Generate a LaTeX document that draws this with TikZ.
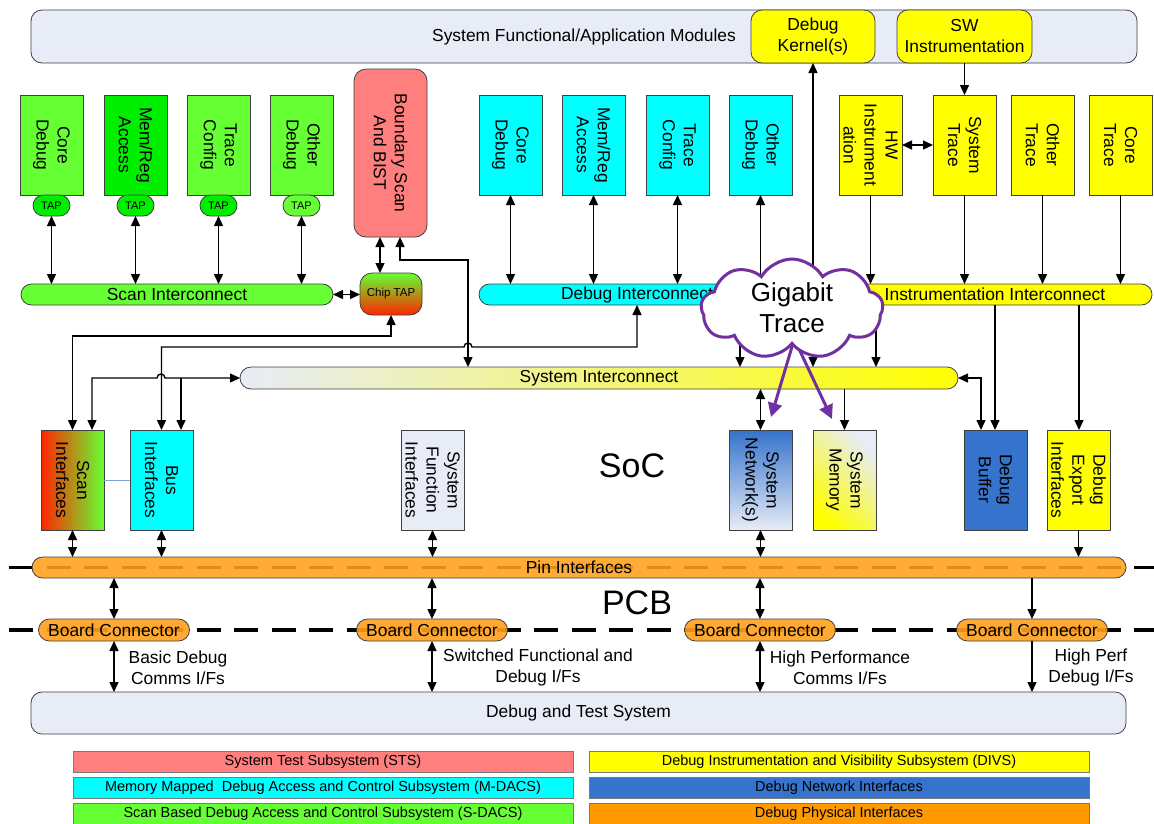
\documentclass[tikz,border=0pt]{standalone}
\usepackage{fontspec}
\setmainfont{Liberation Sans}
\usetikzlibrary{arrows.meta,shapes.symbols}

\definecolor{paleblue}{HTML}{E7ECF7}
\definecolor{cLime}{HTML}{66FF33}
\definecolor{cGreen}{HTML}{00EE00}
\definecolor{cCyan}{HTML}{00FFFF}
\definecolor{cYellow}{HTML}{FFFF00}
\definecolor{cPink}{HTML}{FF7F7F}
\definecolor{cNet}{HTML}{3573CC}
\definecolor{cOrange}{HTML}{FFA01C}
\definecolor{cLegOrange}{HTML}{FF9900}
\definecolor{cPurple}{HTML}{7030A0}
\definecolor{cEdge}{HTML}{404040}
\definecolor{cRed}{HTML}{FF2400}
\definecolor{cAmber}{HTML}{D89A10}
\definecolor{cLink}{HTML}{7FA0D8}

\begin{document}
\begin{tikzpicture}[x=1pt,y=-1pt,
  >={Triangle[length=10pt,width=9pt]},
  every node/.style={font=\fontsize{17.4}{21}\selectfont, inner sep=0pt, outer sep=0pt},
  blk/.style={draw=cEdge, line width=0.8pt, minimum width=63pt, minimum height=100pt},
  vtxt/.style={rotate=-90, align=center},
  pill/.style={draw=cEdge, line width=0.8pt, rounded corners=10.5pt, minimum height=21pt},
  tap/.style={pill, minimum width=37pt, font=\fontsize{11}{13}\selectfont},
  topblk/.style={draw=cEdge, line width=0.8pt, rounded corners=11pt, minimum height=53pt, align=center},
  lgd/.style={draw=cEdge!70, line width=0.8pt, minimum width=500pt, minimum height=21pt, font=\fontsize{14.5}{17}\selectfont},
  con/.style={line width=1.4pt, ->},
  dcon/.style={line width=1.4pt, <->},
  bdry/.style={line width=3.5pt, dash pattern=on 24pt off 13.5pt},
  gig/.style={draw=cPurple, line width=3pt, -{Triangle[length=14pt,width=14pt]}},
  puffy/.style={cloud, cloud puffs=9, cloud puff arc=120, aspect=1.8, minimum width=182pt, minimum height=100pt},
  conn/.style={pill, fill=cOrange, fill opacity=0.9, text opacity=1, minimum width=151pt, minimum height=22pt, rounded corners=11pt}
]
\fill[white] (0,0) rectangle (1154,823);
\useasboundingbox (0,0) rectangle (1154,823);

% SoC / PCB boundaries
\draw[bdry] (9,567.5) -- (1154,567.5);
\draw[bdry] (9,630) -- (1154,630);

% application layer
\node[topblk, fill=paleblue, minimum width=1106pt] (apps) at (584,36.5) {System Functional/Application Modules};
\node[topblk, fill=cYellow, minimum width=124pt] (dk) at (813,36.5) {Debug\\Kernel(s)};
\node[topblk, fill=cYellow, minimum width=135pt] (sw) at (964.5,36.5) {SW\\Instrumentation};

% scan based debug blocks
\node[blk, fill=cLime] (sd1) at (51.5,145) {};
\node[vtxt] (sd1t) at (sd1) {Core\\Debug};
\node[blk, fill=cGreen] (sd2) at (135.5,145) {};
\node[vtxt] (sd2t) at (sd2) {Mem/Reg\\Access};
\node[blk, fill=cLime] (sd3) at (218.5,145) {};
\node[vtxt] (sd3t) at (sd3) {Trace\\Config};
\node[blk, fill=cLime] (sd4) at (301.5,145) {};
\node[vtxt] (sd4t) at (sd4) {Other\\Debug};
\node[tap, fill=cGreen] (tap1) at (51.5,205.5) {TAP};
\node[tap, fill=cGreen] (tap2) at (135.5,205.5) {TAP};
\node[tap, fill=cGreen] (tap3) at (218.5,205.5) {TAP};
\node[tap, fill=cLime] (tap4) at (301.5,205.5) {TAP};
\node[pill, fill=cLime, minimum width=312pt] (scan) at (177,294.5) {Scan Interconnect};

% system test
\node[blk, fill=cPink, rounded corners=12pt, minimum width=73pt, minimum height=168pt] (bsc) at (390.5,153) {};
\node[vtxt] (bsct) at (bsc) {Boundary Scan\\And BIST};
\node[draw=cEdge, line width=0.8pt, rounded corners=12pt, top color=cLime, middle color=cAmber, bottom color=cRed,
      minimum width=62pt, minimum height=42pt, font=\fontsize{11.5}{13}\selectfont] (chiptap) at (391,294) {Chip TAP};

% memory mapped debug blocks
\node[blk, fill=cCyan] (md1) at (510.5,145) {};
\node[vtxt] (md1t) at (md1) {Core\\Debug};
\node[blk, fill=cCyan] (md2) at (593.5,145) {};
\node[vtxt] (md2t) at (md2) {Mem/Reg\\Access};
\node[blk, fill=cCyan] (md3) at (677.5,145) {};
\node[vtxt] (md3t) at (md3) {Trace\\Config};
\node[blk, fill=cCyan] (md4) at (760.5,145) {};
\node[vtxt] (md4t) at (md4) {Other\\Debug};
\node[pill, fill=cCyan, minimum width=316pt] (dbgint) at (637,294.5) {Debug Interconnect};

% instrumentation blocks
\node[blk, fill=cYellow] (hw) at (870.5,145) {};
\node[vtxt] (hwt) at (hw) {HW\\Instrument\\ation};
\node[blk, fill=cYellow] (st) at (964.5,145) {};
\node[vtxt] (stt) at (st) {System\\Trace};
\node[blk, fill=cYellow] (ot) at (1042.5,145) {};
\node[vtxt] (ott) at (ot) {Other\\Trace};
\node[blk, fill=cYellow] (ct) at (1120.5,145) {};
\node[vtxt] (ctt) at (ct) {Core\\Trace};
\node[pill, fill=cYellow, minimum width=314pt] (instr) at (995,294.5) {Instrumentation Interconnect};

% system interconnect
\node[pill, left color=paleblue, right color=cYellow, minimum width=718pt, minimum height=22pt, rounded corners=11pt] (sysint) at (599,378) {System Interconnect};

% interface blocks
\node[blk, left color=cRed, right color=cLime] (scanif) at (72.5,480) {};
\node[vtxt] (scanift) at (scanif) {Scan\\Interfaces};
\node[blk, fill=cCyan] (busif) at (161.5,480) {};
\node[vtxt] (busift) at (busif) {Bus\\Interfaces};
\node[blk, fill=paleblue] (sfi) at (432.5,480) {};
\node[vtxt] (sfit) at (sfi) {System\\Function\\Interfaces};
\node[blk, top color=cNet, bottom color=paleblue] (snet) at (760.5,480) {};
\node[vtxt] (snett) at (snet) {System\\Network(s)};
\node[blk, bottom color=cYellow, top color=paleblue, shading angle=-45] (smem) at (844.5,480) {};
\node[vtxt] (smemt) at (smem) {System\\Memory};
\node[blk, fill=cNet] (dbuf) at (995.5,480) {};
\node[vtxt] (dbuft) at (dbuf) {Debug\\Buffer};
\node[blk, fill=cYellow] (dexp) at (1078.5,480) {};
\node[vtxt] (dexpt) at (dexp) {Debug\\Export\\Interfaces};

\node[font=\fontsize{34}{40}\selectfont] (soc) at (632,466) {SoC};
\node[font=\fontsize{34}{40}\selectfont] (pcb) at (637,603) {PCB};

% pins and board
\node[pill, fill=cOrange, fill opacity=0.88, text opacity=1, minimum width=1094pt] (pin) at (579,567.5) {Pin Interfaces};
\node[conn] (bc1) at (114,630) {Board Connector};
\node[conn] (bc2) at (432,630) {Board Connector};
\node[conn] (bc3) at (760,630) {Board Connector};
\node[conn] (bc4) at (1032,630) {Board Connector};
\node[topblk, fill=paleblue, minimum width=1095pt, minimum height=42pt] (dts) at (578.5,713) {Debug and Test System};

\node[align=center] (lab1) at (178,667.5) {Basic Debug\\Comms I/Fs};
\node[align=center] (lab2) at (538,667.5) {Switched Functional and\\Debug I/Fs};
\node[align=center] (lab3) at (840,667.5) {High Performance\\Comms I/Fs};
\node[align=center] (lab4) at (1091,667.5) {High Perf\\Debug I/Fs};

% legend
\node[lgd, fill=cPink] (l1) at (323,762) {System Test Subsystem (STS)};
\node[lgd, fill=cCyan] (l2) at (323,787.5) {Memory Mapped\ \ Debug Access and Control Subsystem (M-DACS)};
\node[lgd, fill=cLime] (l3) at (323,813.5) {Scan Based Debug Access and Control Subsystem (S-DACS)};
\node[lgd, fill=cYellow] (r1) at (839,762) {Debug Instrumentation and Visibility Subsystem (DIVS)};
\node[lgd, fill=cNet] (r2) at (839,787.5) {Debug Network Interfaces};
\node[lgd, fill=cLegOrange] (r3) at (839,813.5) {Debug Physical Interfaces};

% attachment points offset from node centres
\coordinate (bscA) at ([xshift=-10.5pt]bsc.south);
\coordinate (bscB) at ([xshift=9.5pt]bsc.south);
\coordinate (sysB) at ([xshift=-131pt]sysint.north);
\coordinate (scanB) at ([xshift=19.5pt]scanif.north);
\coordinate (busB) at ([xshift=19.5pt]busif.north);
\coordinate (dbgDrop) at ([xshift=103pt]dbgint.south);
\coordinate (insDrop) at ([xshift=-119pt]instr.south);
\coordinate (expTap) at ([xshift=84pt]instr.south);
\coordinate (bufIn) at ([xshift=-14.5pt]dbuf.north);

% scan side connectors
\foreach \t in {tap1,tap2,tap3,tap4}
  \draw[dcon] (\t.south) -- (\t.south |- scan.north);
\draw[dcon] (scan.east) -- (scan.east -| chiptap.west);
\draw[dcon] (bscA) -- (bscA |- chiptap.north);
\draw[dcon] (bscB) -- ++(0,23) -| (sysB);
\draw[dcon] (chiptap.south) -- ++(0,21) -| (scanif.north);
\draw[dcon] (dbgint.south) -- ++(0,42) -- ++(-165,0)
  arc[start angle=0,end angle=180,radius=4pt] -| (busif.north);
\draw[dcon] (sysint.west) -- ++(-75,0)
  arc[start angle=0,end angle=180,radius=4pt] -| (scanB);
\draw[con] (busB |- sysint.west) -- (busB);
\draw[cLink, line width=0.8pt] (scanif.east) -- (busif.west);

% memory mapped connectors
\foreach \m in {md1,md2,md3,md4}
  \draw[dcon] (\m.south) -- (\m.south |- dbgint.north);
\draw[con] (dbgDrop) -- (dbgDrop |- sysint.north);
\draw[dcon] (dk.south) -- (dk.south |- sysint.north);

% instrumentation connectors
\draw[dcon] (hw.east) -- (st.west);
\draw[con] (sw.south) -- (st.north);
\foreach \b in {hw,st,ot,ct}
  \draw[con] (\b.south) -- (\b.south |- instr.north);
\draw[con] (insDrop) -- (insDrop |- sysint.north);
\draw[con] (instr.south) -- (instr.south |- dbuf.north);
\draw[con] (expTap) -- (expTap |- dexp.north);
\draw[dcon] (sysint.east) -| (bufIn);
\draw[dcon] (snet.north |- sysint.south) -- (snet.north);
\draw[con] (smem.north |- sysint.south) -- (smem.north);

% interfaces to pins
\foreach \f in {scanif,busif,sfi,snet}
  \draw[dcon] (\f.south) -- (\f.south |- pin.north);
\draw[con] (dexp.south) -- (dexp.south |- pin.north);

% pins to board to test system
\foreach \c in {bc1,bc2,bc3} {
  \draw[dcon] (\c.north |- pin.south) -- (\c.north);
  \draw[dcon] (\c.south) -- (\c.south |- dts.north);
}
\draw[con] (bc4.north |- pin.south) -- (bc4.north);
\draw[con] (bc4.south) -- (bc4.south |- dts.north);

% gigabit trace
\coordinate (gA) at (771,417);
\coordinate (gB) at (832,419);
\node[puffy] (gt) at (792,309) {};
\draw[gig] ([xshift=7pt,yshift=20pt]gt.south) -- (gA);
\draw[gig] ([xshift=-5pt,yshift=20pt]gt.south) -- (gB);
\node[puffy, draw=cPurple, line width=3pt, fill=white] (gtc) at (792,309) {};
\node[font=\fontsize{26}{31}\selectfont, align=center] (gtt) at (792,308) {Gigabit\\Trace};
\end{tikzpicture}
\end{document}
